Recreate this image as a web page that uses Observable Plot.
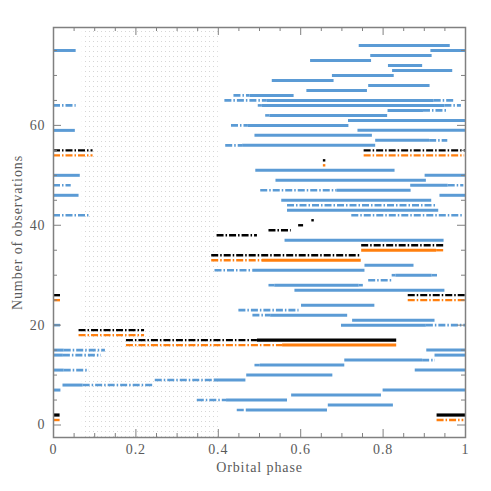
<!DOCTYPE html>
<html><head><meta charset="utf-8">
<script src="https://cdn.jsdelivr.net/npm/d3@7"></script>
<script src="https://cdn.jsdelivr.net/npm/@observablehq/plot@0.6"></script>
<style>body{margin:0;background:#fff} svg text{letter-spacing:0.9px}</style>
</head><body><div id="chart"></div>
<script>
// [observation number, phase start, phase end]
const blueSolid = [
  [76,0.742,0.963],[75,0,0.055],[75,0.916,1],[74,0.770,0.919],[73,0.624,0.772],
  [72,0.813,0.896],[71,0.823,0.969],[70,0.677,0.827],[69,0.531,0.681],[68,0.765,0.914],
  [67,0.615,0.762],[66,0.477,0.584],[65,0.519,0.924],[64,0.507,0.950],[63,0.812,0.898],
  [62,0.525,0.811],[61,0.716,1],[60,0.473,0.717],[59,0,0.053],[59,0.739,1],
  [58,0.489,0.774],[57,0.782,0.913],[56,0.459,0.782],[51,0.491,0.829],[50,0,0.065],
  [50,0.902,1],[49,0.540,0.905],[48,0.867,0.958],[47,0.688,0.868],[46,0,0.062],
  [46,0.938,1],[45,0.554,0.918],[43,0.568,0.935],[37,0.562,0.948],[32,0.756,0.875],
  [31,0.484,0.756],[30,0.831,0.919],[28,0.537,0.742],[27,0.586,0.950],[24,0.602,0.780],
  [22,0.527,0.714],[21,0.726,0.926],[20,0.699,0.905],[15,0,0.026],[15,0.906,1],
  [14,0,0.024],[14,0.926,1],[13,0.707,0.896],[12,0.502,0.707],[11,0,0.026],
  [11,0.878,1],[10,0.469,0.678],[9,0.390,0.467],[8,0.023,0.072],[7,0,0.018],
  [7,0.800,1],[6,0.578,0.796],[5,0.420,0.568],[4,0.667,0.825],[3,0.468,0.665]
];
const blueDash = [
  [66,0.438,0.477],[65,0.416,0.519],[65,0.924,0.975],[64,0,0.055],[64,0.497,0.507],
  [64,0.950,0.990],[63,0.898,0.957],[62,0.515,0.525],[60,0.432,0.473],[57,0.913,0.957],
  [56,0.418,0.459],[48,0,0.043],[48,0.958,0.996],[47,0.503,0.688],[44,0.568,0.932],
  [42,0,0.086],[42,0.724,0.997],[31,0.392,0.484],[30,0.822,0.831],[30,0.919,0.932],
  [29,0.765,0.822],[28,0.523,0.537],[28,0.742,0.752],[23,0.450,0.596],[22,0.484,0.527],
  [20,0,0.020],[20,0.905,1],[15,0.026,0.126],[14,0.024,0.116],[13,0.896,0.927],
  [12,0.489,0.502],[11,0.026,0.087],[9,0.247,0.390],[8,0.072,0.243],[5,0.349,0.420],
  [3,0.446,0.468]
];
const blackDash = [
  [55,0,0.096],[55,0.754,1],[53,0.655,0.661],[41,0.627,0.633],[40,0.595,0.607],
  [39,0.523,0.577],[38,0.397,0.495],[36,0.748,0.949],[34,0.384,0.747],[26,0,0.018],
  [26,0.861,1],[19,0.062,0.221],[17,0.177,0.495]
];
const blackSolid = [[17,0.495,0.833],[2,0,0.016],[2,0.931,1]];
const orangeDash = [
  [54,0,0.096],[54,0.754,0.998],[52,0.655,0.661],[35,0.930,0.951],[33,0.384,0.507],
  [25,0,0.018],[25,0.861,1],[18,0.062,0.221],[16,0.177,0.556],[1,0,0.016],[1,0.931,0.996]
];
const orangeSolid = [[35,0.748,0.930],[33,0.507,0.747],[16,0.556,0.833]];
const shadedPhase = [[0.07, 0.40]];
const xMajor = [0, 0.2, 0.4, 0.6, 0.8, 1];
const xMinor = [0.05,0.1,0.15,0.25,0.3,0.35,0.45,0.5,0.55,0.65,0.7,0.75,0.85,0.9,0.95];
const yMajor = [0, 20, 40, 60];
const yMinor = [5,10,15,25,30,35,45,50,55,65,70,75];

const W = 491, H = 491, mL = 53, mR = 26, mT = 27, mB = 54;
const DASH = "7,2,1.5,2";
const BLUE = "#5b9bd5", ORANGE = "#ff7f0e", BLACK = "#000";
const AX = "#808080";

function seg(arr, color, dashed, width) {
  return Plot.ruleY(arr, {
    y: d => d[0], x1: d => d[1], x2: d => d[2],
    stroke: color, strokeWidth: width, strokeLinecap: "butt",
    ...(dashed ? {strokeDasharray: DASH} : {})
  });
}
const ih = H - mT - mB, iw = W - mL - mR;

const plot = Plot.plot({
  width: W, height: H,
  marginLeft: mL, marginRight: mR, marginTop: mT, marginBottom: mB,
  x: {domain: [0, 1]},
  y: {domain: [-2.5, 79.6]},
  style: {fontFamily: "'Liberation Serif', serif", fontSize: "14px", color: "#5a5a5a", background: "white"},
  marks: [
    Plot.rect(shadedPhase, {x1: d => d[0], x2: d => d[1], fill: "url(#dots)"}),
    seg(blueDash, BLUE, true, 2.6),
    seg(blueSolid, BLUE, false, 3),
    seg(blackDash, BLACK, true, 2.4),
    seg(blackSolid, BLACK, false, 3.2),
    seg(orangeDash, ORANGE, true, 2.4),
    seg(orangeSolid, ORANGE, false, 3),
    Plot.tickX(xMajor, {x: d => d, insetTop: ih - 8, stroke: AX}),
    Plot.tickX(xMinor, {x: d => d, insetTop: ih - 4, stroke: AX}),
    Plot.tickX(xMajor, {x: d => d, insetBottom: ih - 8, stroke: AX}),
    Plot.tickX(xMinor, {x: d => d, insetBottom: ih - 4, stroke: AX}),
    Plot.tickY(yMajor, {y: d => d, insetRight: iw - 8, stroke: AX}),
    Plot.tickY(yMinor, {y: d => d, insetRight: iw - 4, stroke: AX}),
    Plot.tickY(yMajor, {y: d => d, insetLeft: iw - 8, stroke: AX}),
    Plot.tickY(yMinor, {y: d => d, insetLeft: iw - 4, stroke: AX}),
    Plot.frame({stroke: AX, strokeWidth: 1.5}),
    Plot.axisX({ticks: xMajor, tickSize: 0, tickPadding: 7, tickFormat: d => String(d),
      label: "Orbital phase", labelAnchor: "center", labelOffset: 34, labelArrow: "none"}),
    Plot.axisY({ticks: yMajor, tickSize: 0, tickPadding: 8, tickFormat: d => String(d),
      label: "Number of observations", labelAnchor: "center", labelOffset: 41, labelArrow: "none"})
  ]
});

const svg = plot.tagName.toLowerCase() === "svg" ? plot : plot.querySelector("svg");
const ns = "http://www.w3.org/2000/svg";
const defs = document.createElementNS(ns, "defs");
const pat = document.createElementNS(ns, "pattern");
pat.setAttribute("id", "dots");
pat.setAttribute("width", "4");
pat.setAttribute("height", "5");
pat.setAttribute("patternUnits", "userSpaceOnUse");
const r = document.createElementNS(ns, "rect");
r.setAttribute("x", "1"); r.setAttribute("y", "1");
r.setAttribute("width", "1"); r.setAttribute("height", "1");
r.setAttribute("fill", "#d6d6d6");
pat.appendChild(r);
defs.appendChild(pat);
svg.insertBefore(defs, svg.firstChild);
document.getElementById("chart").appendChild(plot);
</script>
</body></html>
